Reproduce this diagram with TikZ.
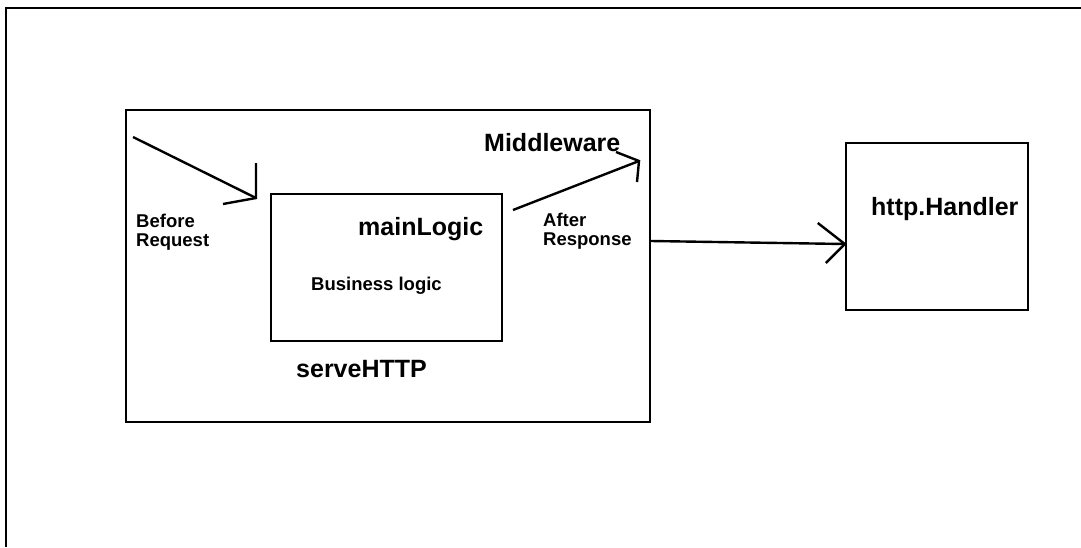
\documentclass[tikz,border=0pt]{standalone}
\usepackage{fontspec}
\setmainfont{Liberation Sans}
\usetikzlibrary{calc}
\def\bigsize{\fontsize{25}{28}\selectfont\bfseries}
\def\smallsize{\fontsize{18.5}{19}\selectfont\bfseries}

\begin{document}
\begin{tikzpicture}[x=1pt,y=-1pt,line width=2.4pt,
    box/.style={draw, rectangle, inner sep=0pt},
    bigtxt/.style={anchor=base west, inner sep=0pt, font=\bigsize},
    smalltxt/.style={anchor=base west, inner sep=0pt, font=\smallsize, align=left}]
        \useasboundingbox (0,0) rectangle (1081,547);
        % frame, only top and left edge are visible
        \draw (6,547) -- (6,8) -- (1081,8);

        % boxes
        \node[box, minimum width=524pt, minimum height=312pt] (mw) at (388,266) {};
        \node[box, minimum width=231pt, minimum height=147pt] (ml) at (386.5,267.5) {};
        \node[box, minimum width=182pt, minimum height=167pt] (hd) at (937,226.5) {};

        % labels (base of a two line label is its last line)
        \node[bigtxt] (mwlabel) at (483,151) {Middleware};
        \node[bigtxt] (mllabel) at (357,235) {mainLogic};
        \node[bigtxt] (shlabel) at (295,377) {serveHTTP};
        \node[bigtxt] (hdlabel) at (870,215) {http.Handler};
        \node[smalltxt] (bllabel) at (310,290) {Business logic};
        \node[smalltxt] (bqlabel) at (135,246) {Before\\Request};
        \node[smalltxt] (arlabel) at (542,245) {After\\Response};

        % before request
        \coordinate (bq start) at (133,137);
        \coordinate (bq tip) at (256,198);
        \draw (bq start) -- (bq tip);
        \draw (bq tip) ++(0,-35) -- (bq tip) -- ++(-33,6);

        % after response
        \coordinate (ar start) at (513,210);
        \coordinate (ar tip) at (639,161);
        \draw (ar start) -- (ar tip);
        \draw (ar tip) ++(-23,-9) -- (ar tip) -- ++(-2,21);

        % middleware to handler
        \coordinate (hd out) at (mw.east |- 0,241);
        \coordinate (hd in) at (hd.west |- 0,244);
        \draw (hd out) -- (hd in);
        \draw (hd in) ++(-27,-21) -- (hd in) -- ++(-19,19);
\end{tikzpicture}
\end{document}
